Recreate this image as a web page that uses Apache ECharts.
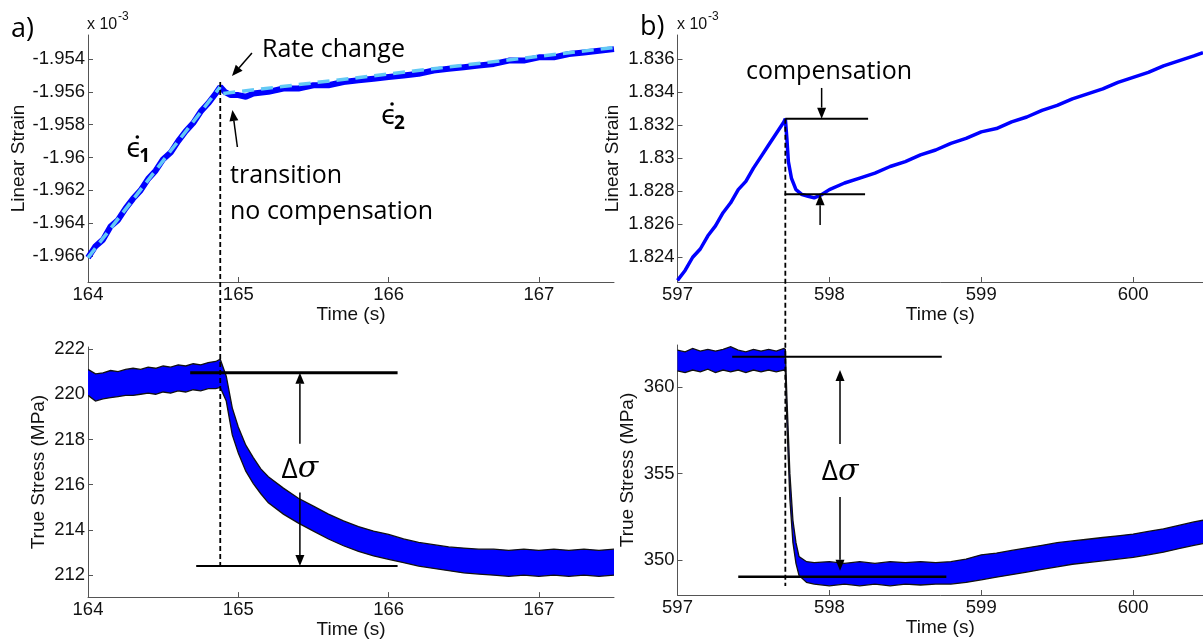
<!DOCTYPE html>
<html><head><meta charset="utf-8">
<script src="https://cdn.jsdelivr.net/npm/echarts@6/dist/echarts.min.js"></script>
<style>html,body{margin:0;padding:0;background:#fff}#c{width:1203px;height:640px}</style>
</head><body><div id="c"></div>
<script>
// ---------- DATA (strain in units of 1e-3, stress in MPa, time in s) ----------
// a) top: linear strain trace
const strainA_t = [164.00,164.05,164.10,164.15,164.20,164.25,164.30,164.35,164.40,164.45,164.50,164.55,164.60,164.65,164.70,164.75,164.80,164.85,164.88,164.91,164.95,165.00,165.05,165.10,165.20,165.30,165.40,165.50,165.60,165.70,165.80,165.90,166.00,166.10,166.20,166.30,166.40,166.50,166.60,166.70,166.80,166.90,167.00,167.10,167.20,167.30,167.40,167.50];
const strainA_v = [-1.9661,-1.9654,-1.9650,-1.9642,-1.9638,-1.9631,-1.9625,-1.9620,-1.9613,-1.9608,-1.9601,-1.9597,-1.9590,-1.9584,-1.9579,-1.9572,-1.9567,-1.9561,-1.9557,-1.9560,-1.9562,-1.9562,-1.9563,-1.9561,-1.9560,-1.9558,-1.9558,-1.9556,-1.9556,-1.9554,-1.9553,-1.9552,-1.9551,-1.9550,-1.9549,-1.9547,-1.9546,-1.9545,-1.9544,-1.9543,-1.9541,-1.9541,-1.9539,-1.9539,-1.9537,-1.9536,-1.9535,-1.9534];
// a) fitted rates (dashed light-blue lines)
const fit1_t = [164.00, 164.88];
const fit1_v = [-1.9661, -1.9557];
const fit2_t = [164.90, 167.50];
const fit2_v = [-1.9561, -1.9533];

// b) top: linear strain trace
const strainB_t = [597.00,597.05,597.10,597.15,597.20,597.25,597.30,597.35,597.40,597.45,597.50,597.55,597.60,597.65,597.70,597.71,597.72,597.73,597.75,597.78,597.82,597.86,597.90,597.95,598.00,598.10,598.20,598.30,598.40,598.50,598.60,598.70,598.80,598.90,599.00,599.10,599.20,599.30,599.40,599.50,599.60,599.70,599.80,599.90,600.00,600.10,600.20,600.30,600.40,600.46];
const strainB_v = [1.8226,1.8232,1.8240,1.8245,1.8253,1.8259,1.8267,1.8273,1.8281,1.8286,1.8294,1.8301,1.8308,1.8315,1.8322,1.8324,1.8312,1.8298,1.8288,1.8281,1.8278,1.8277,1.8276,1.8278,1.8281,1.8285,1.8288,1.8291,1.8295,1.8298,1.8302,1.8305,1.8309,1.8312,1.8316,1.8318,1.8322,1.8325,1.8329,1.8332,1.8336,1.8339,1.8342,1.8346,1.8349,1.8352,1.8356,1.8359,1.8362,1.8364];

// a) bottom: true stress band (lower / upper edge of the noisy trace)
const stressA_t = [164.00,164.05,164.10,164.15,164.20,164.25,164.30,164.35,164.40,164.45,164.50,164.55,164.60,164.65,164.70,164.75,164.80,164.85,164.88,164.92,164.96,165.00,165.05,165.10,165.15,165.20,165.30,165.40,165.50,165.60,165.70,165.80,165.90,166.00,166.10,166.20,166.30,166.40,166.50,166.60,166.70,166.80,166.90,167.00,167.10,167.20,167.30,167.40,167.50];
const stressA_lo = [219.95,219.70,219.80,219.85,219.90,219.95,219.95,220.00,220.05,220.00,220.10,220.05,220.15,220.10,220.20,220.15,220.25,220.25,220.30,219.70,218.20,217.40,216.60,216.05,215.60,215.20,214.70,214.30,213.95,213.60,213.30,213.05,212.85,212.70,212.55,212.40,212.30,212.20,212.10,212.05,212.00,211.95,212.00,211.95,212.00,211.95,212.00,211.95,212.00];
const stressA_hi = [221.10,220.90,220.95,221.05,221.00,221.10,221.15,221.10,221.20,221.15,221.25,221.20,221.30,221.25,221.35,221.30,221.40,221.45,221.55,220.80,219.40,218.55,217.75,217.20,216.70,216.35,215.85,215.40,215.05,214.70,214.40,214.15,213.95,213.80,213.60,213.45,213.35,213.25,213.20,213.15,213.15,213.10,213.15,213.10,213.15,213.10,213.15,213.10,213.15];

// b) bottom: true stress band
const stressB_t = [597.00,597.05,597.10,597.15,597.20,597.25,597.30,597.35,597.40,597.45,597.50,597.55,597.60,597.65,597.70,597.71,597.72,597.74,597.76,597.78,597.80,597.85,597.90,598.00,598.10,598.20,598.30,598.40,598.50,598.60,598.70,598.80,598.90,599.00,599.10,599.20,599.30,599.40,599.50,599.60,599.70,599.80,599.90,600.00,600.10,600.20,600.30,600.40,600.46];
const stressB_lo = [360.95,360.85,361.00,360.90,361.05,360.85,361.00,360.90,361.00,360.85,361.00,360.90,361.00,360.90,361.00,360.95,358.00,353.50,351.00,349.80,349.10,348.70,348.60,348.50,348.60,348.50,348.60,348.50,348.60,348.55,348.60,348.60,348.70,348.85,349.00,349.15,349.30,349.45,349.60,349.75,349.85,349.95,350.05,350.15,350.30,350.45,350.65,350.85,350.95];
const stressB_hi = [362.15,362.05,362.25,362.10,362.20,362.10,362.20,362.35,362.15,362.05,362.20,362.10,362.20,362.10,362.25,362.20,359.50,355.00,352.30,351.00,350.20,349.90,349.85,349.90,349.80,349.90,349.80,349.90,349.85,349.90,349.85,349.90,350.05,350.30,350.40,350.55,350.70,350.85,351.00,351.10,351.20,351.30,351.40,351.50,351.65,351.80,352.00,352.20,352.30];

// tick values
const ticksX_a = [164, 165, 166, 167];
const ticksX_b = [597, 598, 599, 600];
const ticksStrainA = [-1.966, -1.964, -1.962, -1.960, -1.958, -1.956, -1.954];
const ticksStrainB = [1.824, 1.826, 1.828, 1.830, 1.832, 1.834, 1.836];
const ticksStressA = [212, 214, 216, 218, 220, 222];
const ticksStressB = [350, 355, 360];

// annotation values
const rateChangeTimeA = 164.88;
const rateChangeTimeB = 597.71;
const dsigA = [220.95, 212.40];
const dsigB = [361.77, 349.02];
const compB = [1.8324, 1.82782];

// ---------- CHART ----------
const zip = (t, v) => t.map((x, i) => [x, v[i]]);
const fmt = v => String(parseFloat(Number(v).toFixed(3)));
const AX = '#555';
const FONT = 'Liberation Sans, Arial, sans-serif';
function xAxis(g, min, max, ticks) {
  return {
    gridIndex: g, type: 'value', min, max,
    axisLine: { show: true, onZero: false, lineStyle: { color: AX, width: 1 } },
    axisTick: { show: true, inside: true, length: 5, customValues: ticks, lineStyle: { color: AX } },
    axisLabel: { customValues: ticks, margin: 3, fontSize: 18.5, color: '#111', fontFamily: FONT, formatter: fmt },
    splitLine: { show: false },
    name: 'Time (s)', nameLocation: 'middle', nameGap: 21,
    nameTextStyle: { fontSize: 19, color: '#111', fontFamily: FONT }
  };
}
function yAxis(g, min, max, ticks, name, gap) {
  return {
    gridIndex: g, type: 'value', min, max,
    axisLine: { show: true, onZero: false, lineStyle: { color: AX, width: 1 } },
    axisTick: { show: true, inside: true, length: 5, customValues: ticks, lineStyle: { color: AX } },
    axisLabel: { customValues: ticks, margin: 3, fontSize: 18.5, color: '#111', fontFamily: FONT, formatter: fmt },
    splitLine: { show: false },
    name, nameLocation: 'middle', nameGap: gap,
    nameTextStyle: { fontSize: 19, color: '#111', fontFamily: FONT }
  };
}
const BLUE = '#0000ff';
function bandSeries(ai, t, lo, hi) {
  return {
    type: 'custom', xAxisIndex: ai, yAxisIndex: ai, silent: true, z: 2, clip: true,
    data: t.map((x, i) => [x, lo[i], hi[i]]),
    encode: { x: 0, y: [1, 2] },
    renderItem: (params, api) => {
      if (params.dataIndex !== 0) return null;
      const up = t.map((x, i) => api.coord([x, hi[i]]));
      const dn = t.map((x, i) => api.coord([x, lo[i]]));
      return { type: 'group', children: [
        { type: 'polygon', shape: { points: up.concat(dn.slice().reverse()) }, style: { fill: BLUE, stroke: null } },
        { type: 'polyline', shape: { points: up }, style: { stroke: '#111', lineWidth: 1.3, fill: null } },
        { type: 'polyline', shape: { points: dn }, style: { stroke: '#111', lineWidth: 1.3, fill: null } }
      ] };
    }
  };
}
const chart = echarts.init(document.getElementById('c'), null, { renderer: 'canvas' });
chart.setOption({
  animation: false,
  backgroundColor: '#fff',
  grid: [
    { left: 88, top: 35, width: 526, height: 247 },
    { left: 677.5, top: 35, width: 525.5, height: 247 },
    { left: 88, top: 347, width: 526, height: 251 },
    { left: 677.5, top: 345, width: 525.5, height: 250 }
  ],
  xAxis: [
    xAxis(0, 164, 167.5, ticksX_a),
    xAxis(1, 597, 600.46, ticksX_b),
    xAxis(2, 164, 167.5, ticksX_a),
    xAxis(3, 597, 600.46, ticksX_b)
  ],
  yAxis: [
    yAxis(0, -1.96758, -1.95254, ticksStrainA, 'Linear Strain', 60),
    yAxis(1, 1.8225, 1.83747, ticksStrainB, 'Linear Strain', 55),
    yAxis(2, 211.03, 222.09, ticksStressA, 'True Stress (MPa)', 40),
    yAxis(3, 347.97, 362.45, ticksStressB, 'True Stress (MPa)', 40)
  ],
  series: [
    { type: 'line', xAxisIndex: 0, yAxisIndex: 0, data: zip(strainA_t, strainA_v), showSymbol: false,
      lineStyle: { color: BLUE, width: 6 }, z: 2 },
    { type: 'line', xAxisIndex: 0, yAxisIndex: 0, data: zip(fit1_t, fit1_v), showSymbol: false,
      lineStyle: { color: '#63c9f5', width: 3.5, type: [12, 7] }, z: 3 },
    { type: 'line', xAxisIndex: 0, yAxisIndex: 0, data: zip(fit2_t, fit2_v), showSymbol: false,
      lineStyle: { color: '#63c9f5', width: 3.5, type: [12, 7] }, z: 3 },
    { type: 'line', xAxisIndex: 1, yAxisIndex: 1, data: zip(strainB_t, strainB_v), showSymbol: false,
      lineStyle: { color: BLUE, width: 3.5 }, z: 2 },
    bandSeries(2, stressA_t, stressA_lo, stressA_hi),
    bandSeries(3, stressB_t, stressB_lo, stressB_hi)
  ]
});

// ---------- ANNOTATIONS ----------
const P = (g, x, y) => chart.convertToPixel({ gridIndex: g }, [x, y]);
const els = [];
const ANN = '"Open Sans", sans-serif';
function line(a, b, w, dash) {
  els.push({ type: 'line', z: 100, shape: { x1: a[0], y1: a[1], x2: b[0], y2: b[1] },
    style: { stroke: '#000', lineWidth: w, lineDash: dash || null } });
}
function arrow(a, b, w) {
  const dx = b[0] - a[0], dy = b[1] - a[1], L = Math.hypot(dx, dy);
  const ux = dx / L, uy = dy / L, hl = 11, hw = 4.5;
  const base = [b[0] - ux * hl, b[1] - uy * hl];
  line(a, base, w || 1.5);
  els.push({ type: 'polygon', z: 100, shape: { points: [b, [base[0] - uy * hw, base[1] + ux * hw], [base[0] + uy * hw, base[1] - ux * hw]] },
    style: { fill: '#000' } });
}
function text(p, s, font, align, dx, dy) {
  els.push({ type: 'text', z: 100, x: p[0] + (dx || 0), y: p[1] + (dy || 0),
    style: { text: s, font, fill: '#000', textAlign: align || 'left', textVerticalAlign: 'middle' } });
}
// dashed vertical rate-change lines spanning both panels
line(P(0, rateChangeTimeA, -1.9554), P(2, rateChangeTimeA, 212.26), 1.8, [5, 3]);
line(P(1, rateChangeTimeB, compB[0]), P(3, rateChangeTimeB, 348.49), 1.8, [5, 3]);

// a) top
text(P(0, 165.158, -1.95345), 'Rate change', '25px ' + ANN, 'left');
arrow(P(0, 165.091, -1.95363), P(0, 164.958, -1.95504));
text(P(0, 164.945, -1.96113), 'transition', '25px ' + ANN, 'left');
text(P(0, 164.945, -1.96332), 'no compensation', '25px ' + ANN, 'left');
arrow(P(0, 164.994, -1.95936), P(0, 164.961, -1.95711));
function epsDot(p, sub) {
  text(p, 'ϵ', '26px "DejaVu Sans", sans-serif', 'left', 0, 0);
  els.push({ type: 'circle', z: 100, shape: { cx: p[0] + 11, cy: p[1] - 13, r: 1.8 }, style: { fill: '#000' } });
  text(p, sub, 'bold 19px "Open Sans", sans-serif', 'left', 13, 7);
}
epsDot(P(0, 164.255, -1.95954), '1');
epsDot(P(0, 165.95, -1.95753), '2');

// b) top
text(P(1, 597.998, 1.83523), 'compensation', '25px ' + ANN, 'center');
line(P(1, rateChangeTimeB, compB[0]), P(1, 598.255, compB[0]), 2);
line(P(1, 597.705, compB[1]), P(1, 598.235, compB[1]), 2);
arrow(P(1, 597.949, 1.83426), P(1, 597.949, compB[0]));
arrow(P(1, 597.939, 1.82596), P(1, 597.939, compB[1]));

// a) bottom
line(P(2, 164.68, dsigA[0]), P(2, 166.06, dsigA[0]), 3);
line(P(2, 164.72, dsigA[1]), P(2, 166.06, dsigA[1]), 2);
arrow(P(2, 165.41, 217.815), P(2, 165.41, dsigA[0]));
arrow(P(2, 165.41, 215.66), P(2, 165.41, dsigA[1]));
function dsig(p) {
  els.push({ type: 'text', z: 100, x: p[0], y: p[1], style: {
    text: '{d|Δ}{s|σ}', textAlign: 'center', textVerticalAlign: 'middle',
    rich: { d: { font: '28px "Open Sans", sans-serif', fill: '#000' },
            s: { font: 'italic 30px "DejaVu Serif", serif', fill: '#000' } } } });
}
dsig(P(2, 165.41, 216.67));

// b) bottom
line(P(3, 597.36, dsigB[0]), P(3, 598.74, dsigB[0]), 2);
line(P(3, 597.40, dsigB[1]), P(3, 598.77, dsigB[1]), 2.5);
arrow(P(3, 598.07, 356.72), P(3, 598.07, 361.0));
arrow(P(3, 598.07, 353.65), P(3, 598.07, 349.37));
dsig(P(3, 598.07, 355.1));

// panel letters and exponent labels
els.push({ type: 'text', z: 100, x: 11, y: 29, style: { text: 'a)', font: '27px "Open Sans", sans-serif', fill: '#000', textVerticalAlign: 'middle' } });
els.push({ type: 'text', z: 100, x: 640, y: 27, style: { text: 'b)', font: '27px "Open Sans", sans-serif', fill: '#000', textVerticalAlign: 'middle' } });
function expo(x) {
  els.push({ type: 'text', z: 100, x: x, y: 25, style: { text: 'x 10', font: '16px ' + FONT, fill: '#111', textVerticalAlign: 'middle' } });
  els.push({ type: 'text', z: 100, x: x + 31, y: 17, style: { text: '-3', font: '12px ' + FONT, fill: '#111', textVerticalAlign: 'middle' } });
}
expo(87); expo(677);

chart.setOption({ graphic: { elements: els } });
</script></body></html>
